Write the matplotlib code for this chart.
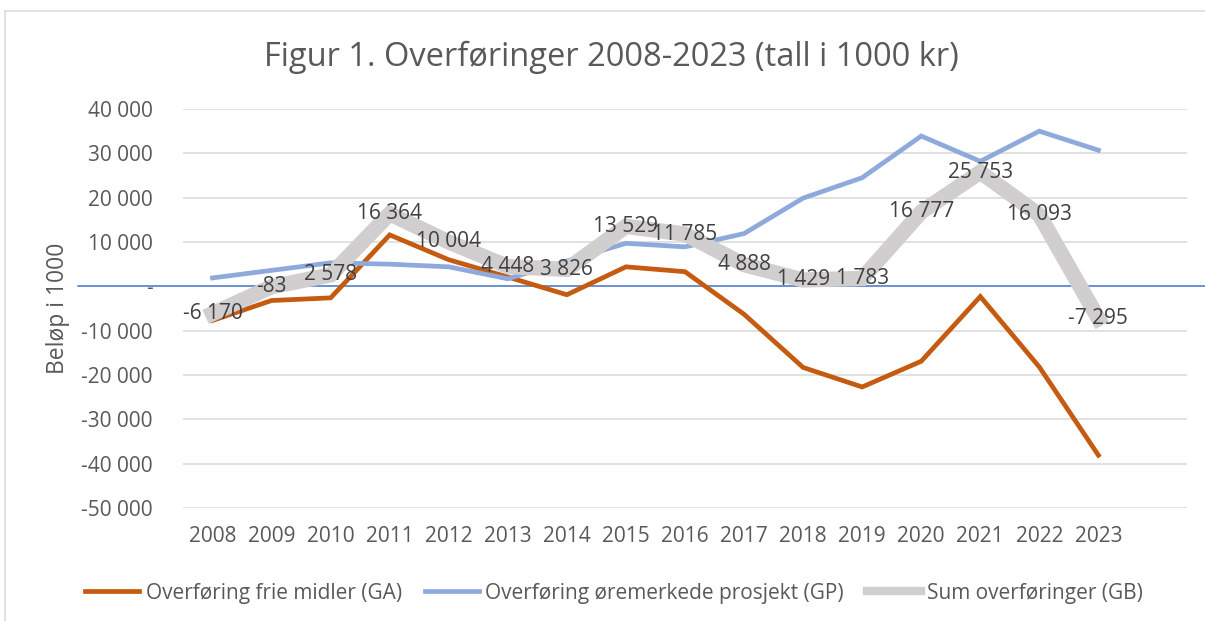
import numpy as np
import matplotlib
matplotlib.use("Agg")
import matplotlib.pyplot as plt
from matplotlib.lines import Line2D

years = [str(y) for y in range(2008, 2024)]
ga = [-7700, -3200, -2600, 11600, 6000, 2100, -1900, 4400, 3300, -6300,
      -18300, -22700, -16900, -2300, -18200, -38100]
gp = [1900, 3600, 5300, 5000, 4400, 1700, 5700, 9700, 8900, 11900,
      19900, 24500, 33900, 28200, 35000, 30700]
gb = [-6170, -83, 2578, 16364, 10004, 4448, 3826, 13529, 11785, 4888,
      1429, 1783, 16777, 25753, 16093, -7295]
names = ["Overføring frie midler (GA)", "Overføring øremerkede prosjekt (GP)",
         "Sum overføringer (GB)"]
yticks = list(range(-50000, 40001, 10000))

ORANGE, BLUE, GREY = "#C55A11", "#8EA9DB", "#D0CECE"
TXT, LBL, GRID = "#595959", "#404040", "#D9D9D9"
plt.rcParams["font.family"] = ["Open Sans", "DejaVu Sans"]

W, H = 1205, 621
fig = plt.figure(figsize=(W / 100, H / 100), dpi=100)
ax = fig.add_axes([183 / W, 1 - 508 / H, (1187 - 183) / W, (508 - 109) / H])

x = np.arange(len(years))
ax.plot(x, ga, color=ORANGE, lw=3.4, solid_joinstyle="miter", zorder=3)
ax.plot(x, gp, color=BLUE, lw=3.4, solid_joinstyle="miter", zorder=4)
ax.plot(x, gb, color=GREY, lw=11, solid_joinstyle="miter", zorder=5)
for xi, v in zip(x, gb):
    ax.text(xi, v, f"{v:,}".replace(",", " "), ha="center", va="center",
            fontsize=15, color=LBL, zorder=6)

ax.set_xlim(-0.5, 16.5)
ax.set_ylim(-50000, 40000)
ax.set_xticks(x)
ax.set_xticklabels(years)
ax.set_yticks(yticks)
ax.set_yticklabels(["-" if v == 0 else f"{v:,}".replace(",", " ")
                    for v in yticks])
ax.tick_params(axis="x", length=0, pad=13, labelsize=15, labelcolor=TXT)
ax.tick_params(axis="y", length=0, pad=22, labelsize=15, labelcolor=TXT)
for s in ax.spines.values():
    s.set_visible(False)
for v in yticks:
    if v != 0:
        ax.axhline(v, color=GRID, lw=1.1, zorder=1)
# zero line runs past the plot area on both sides
ax.plot([(78 - 183) / 1004, (1205 - 183) / 1004], [0, 0], color="#4472C4",
        lw=1.1, transform=ax.get_yaxis_transform(), clip_on=False, zorder=2)

fig.text(611 / W, 1 - 57 / H, "Figur 1. Overføringer 2008-2023 (tall i 1000 kr)",
         ha="center", va="center", fontsize=23.5, color=TXT)
fig.text(58 / W, 1 - 308 / H, "Beløp i 1000", rotation=90, ha="center",
         va="center", fontsize=16.5, color=TXT)

handles = [Line2D([], [], color=ORANGE, lw=3.4),
           Line2D([], [], color=BLUE, lw=3.4),
           Line2D([], [], color=GREY, lw=6)]
fig.legend(handles, names, loc="center", bbox_to_anchor=(614 / W, 1 - 593 / H),
           ncol=3, frameon=False, fontsize=15, labelcolor=TXT,
           handlelength=2.6, handletextpad=0.3, columnspacing=1.1)

# chart border (top and left edges visible in the crop)
fig.add_artist(Line2D([5 / W, 1], [1 - 11 / H, 1 - 11 / H], color=GRID, lw=1.1))
fig.add_artist(Line2D([5 / W, 5 / W], [0, 1 - 11 / H], color=GRID, lw=1.1))

fig.savefig("out.png", dpi=100)
